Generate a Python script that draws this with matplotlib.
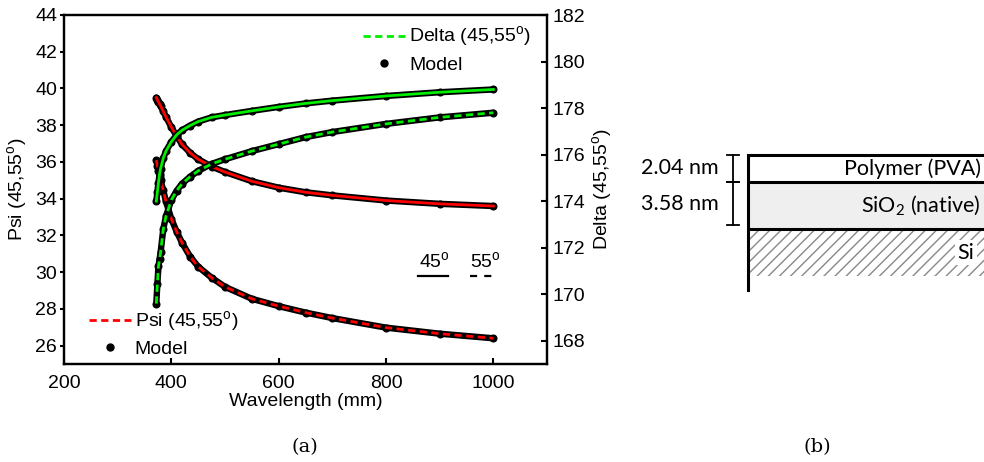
import matplotlib
matplotlib.use("Agg")
import matplotlib.pyplot as plt
from matplotlib.lines import Line2D
from matplotlib.patches import Rectangle

plt.rcParams['font.family'] = ['Liberation Sans', 'DejaVu Sans']
plt.rcParams['mathtext.fontset'] = 'custom'
plt.rcParams['mathtext.rm'] = 'Liberation Sans'
plt.rcParams['mathtext.sf'] = 'Lato'
plt.rcParams['hatch.color'] = '#888888'
plt.rcParams['hatch.linewidth'] = 1.0

wavelength = [372, 374, 376, 378, 380, 385, 390, 400, 410, 420, 435, 450, 475,
              500, 550, 600, 650, 700, 800, 900, 1000]
psi_45 = [39.5, 39.38, 39.27, 39.16, 39.05, 38.75, 38.45, 37.9, 37.4, 36.95, 36.5,
          36.15, 35.75, 35.45, 34.95, 34.6, 34.35, 34.18, 33.9, 33.72, 33.6]
psi_55 = [36.1, 35.8, 35.5, 35.25, 35.0, 34.45, 33.85, 32.9, 32.2, 31.6, 30.85,
          30.3, 29.7, 29.2, 28.55, 28.15, 27.8, 27.5, 26.98, 26.65, 26.4]
delta_45 = [174.0, 174.4, 174.8, 175.15, 175.4, 175.85, 176.15, 176.55, 176.85, 177.05,
            177.25, 177.42, 177.6, 177.7, 177.88, 178.05, 178.2, 178.32, 178.52, 178.68, 178.8]
delta_55 = [169.6, 170.45, 171.2, 171.5, 171.8, 172.8, 173.35, 174.05, 174.45, 174.75,
            175.05, 175.3, 175.6, 175.8, 176.15, 176.45, 176.75, 176.97, 177.32, 177.6, 177.8]

# layer stack for panel (b)
layer_names = ['Polymer (PVA)', r'$\mathsf{SiO}_\mathsf{2}$ (native)']
layer_thick = [2.04, 3.58]

DEG = r'$^{\rm o}$'
dash = (0, (2.6, 1.6))
FS = 14

fig = plt.figure(figsize=(9.84, 4.62), dpi=100)
ax = fig.add_axes([64 / 984, 98 / 462, 483 / 984, 349 / 462])
ax2 = ax.twinx()


def draw_model(a, y):
    a.plot(wavelength, y, color='black', lw=4.6, solid_capstyle='round', zorder=2)
    a.plot(wavelength, y, 'o', color='black', ms=4.8, zorder=2)


draw_model(ax, psi_45)
draw_model(ax, psi_55)
ax.plot(wavelength, psi_45, color='red', lw=2, zorder=3)
ax.plot(wavelength, psi_55, color='red', lw=2, ls=dash, zorder=3)

draw_model(ax2, delta_45)
draw_model(ax2, delta_55)
ax2.plot(wavelength, delta_45, color='#00ee00', lw=2, zorder=3)
ax2.plot(wavelength, delta_55, color='#00ee00', lw=2, ls=dash, zorder=3)

ax.set_xlim(200, 1100)
ax.set_ylim(25, 44)
ax2.set_ylim(167, 182)
ax.set_xticks([200, 400, 600, 800, 1000])
ax.set_yticks(range(26, 45, 2))
ax2.set_yticks(range(168, 183, 2))

for a in (ax, ax2):
    for s in a.spines.values():
        s.set_linewidth(1.6)
ax.tick_params(axis='x', direction='in', length=4, width=1.5, labelsize=FS, pad=8)
ax.tick_params(axis='y', direction='out', length=3, width=1.5, labelsize=FS, pad=2)
ax2.tick_params(axis='y', direction='in', length=4, width=1.5, labelsize=FS, pad=4)

ax.set_xlabel('Wavelength (mm)', fontsize=FS, labelpad=1)
ax.set_ylabel('Psi (45,55' + DEG + ')', fontsize=FS)
ax.yaxis.set_label_coords(-0.07, 0.5)
ax2.set_ylabel('Delta (45,55' + DEG + ')', fontsize=FS)
ax2.yaxis.set_label_coords(1.09, 0.5)

model_h = Line2D([], [], color='black', marker='o', ms=5, ls='none')
leg1 = ax2.legend([Line2D([], [], color='#00ee00', lw=2, ls=dash), model_h],
                  ['Delta (45,55' + DEG + ')', 'Model'], loc='upper left',
                  bbox_to_anchor=(0.62, 0.972), frameon=False, fontsize=FS,
                  handlelength=2.15, handletextpad=0.2, labelspacing=0.35,
                  borderpad=0, borderaxespad=0)
leg2 = ax.legend([Line2D([], [], color='red', lw=2, ls=dash), model_h],
                 ['Psi (45,55' + DEG + ')', 'Model'], loc='upper left',
                 bbox_to_anchor=(0.052, 0.158), frameon=False, fontsize=FS,
                 handlelength=2.15, handletextpad=0.2, labelspacing=0.35,
                 borderpad=0, borderaxespad=0)

# angle key
ax.text(0.766, 0.292, '45' + DEG, transform=ax.transAxes, ha='center', va='center', fontsize=FS)
ax.text(0.872, 0.292, '55' + DEG, transform=ax.transAxes, ha='center', va='center', fontsize=FS)
ax.plot([0.733, 0.795], [0.252, 0.252], color='black', lw=1.6, transform=ax.transAxes)
ax.plot([0.841, 0.890], [0.252, 0.252], color='black', lw=1.6, ls=(0, (3.2, 3.2)),
        transform=ax.transAxes)

fig.text(305 / 984, 1 - 447 / 462, '(a)', family='DejaVu Serif', fontsize=14,
         ha='center', va='center')
fig.text(817 / 984, 1 - 447 / 462, '(b)', family='DejaVu Serif', fontsize=14,
         ha='center', va='center')

# panel (b): layer stack, depth in nm
px_per_nm = 13.2
top_px, bot_px = 140, 300
axb = fig.add_axes([620 / 984, 1 - bot_px / 462, 364 / 984, (bot_px - top_px) / 462])
axb.set_xlim(0, 364)
axb.set_ylim((bot_px - 155) / px_per_nm, (top_px - 155) / px_per_nm)
axb.axis('off')

x0, x1 = 128, 400
depth = 0
bounds = [0]
fills = ['white', '#efefef']
for name, t, fc in zip(layer_names, layer_thick, fills):
    axb.add_patch(Rectangle((x0, depth), x1 - x0, t, facecolor=fc, edgecolor='none'))
    axb.text(361, depth + t / 2, name, family='Lato', fontsize=15.5, ha='right', va='center')
    depth += t
    bounds.append(depth)
si_bottom = depth + 47 / px_per_nm
axb.add_patch(Rectangle((x0, depth), x1 - x0, si_bottom - depth, facecolor='white',
                        edgecolor='#888888', hatch='///', lw=0))
axb.text(346, (depth + si_bottom) / 2, 'Si', family='Lato', fontsize=15.5, ha='center',
         va='center', bbox=dict(facecolor='white', edgecolor='none', pad=2))
for b in bounds:
    axb.plot([x0, x1], [b, b], color='black', lw=2.2, solid_capstyle='butt')
axb.plot([x0, x0], [0, si_bottom + 14 / px_per_nm], color='black', lw=2.2)

# thickness brackets
bx = 113
for i, t in enumerate(layer_thick):
    y0, y1 = bounds[i], bounds[i + 1]
    if i == len(layer_thick) - 1:
        y1 -= 4 / px_per_nm
    axb.plot([bx, bx], [y0, y1], color='black', lw=1.3)
    for yy in (y0, y1):
        axb.plot([bx - 6, bx + 6], [yy, yy], color='black', lw=1.3)
    axb.text(99, (y0 + y1) / 2, f'{t:.2f} nm', family='Lato', fontsize=15.5,
             ha='right', va='center')

fig.savefig('out.png', dpi=100)
